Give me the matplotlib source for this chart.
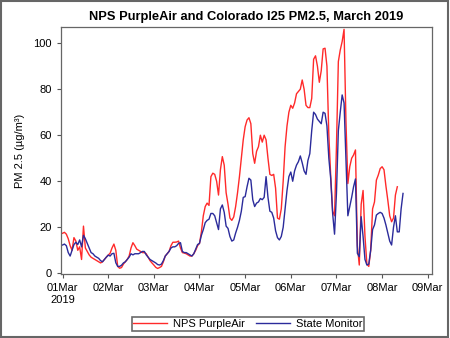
import pandas as pd
import matplotlib
matplotlib.use("Agg")
import matplotlib.pyplot as plt
from matplotlib.patches import Rectangle

# hourly PM2.5, one list per day (01Mar .. 08Mar)
purple_day1 = [17.4, 17.8, 17, 15, 12, 10, 15.5, 14, 10, 11.5, 6, 20.5, 11, 9.5, 8, 7, 6.5, 6, 5.5, 5, 4.5, 5, 6, 7]
purple_day2 = [7.9, 8.7, 11, 12.7, 10, 3, 2.2, 2.5, 4, 5, 6, 7.5, 11, 13.3, 12, 10.5, 10, 9.5, 9, 9, 8.5, 7, 5.5, 4.5]
purple_day3 = [3.6, 2.6, 2.1, 2.5, 3, 5, 7.5, 8.5, 9.5, 12, 13.5, 13.5, 13.6, 14, 11, 9, 8.8, 8.5, 8, 7.5, 7.5, 8.5, 10, 12]
purple_day4 = [13, 18, 25, 29, 30.5, 29.5, 42, 43.5, 43, 40, 34, 45, 50.7, 47, 35, 30, 24, 23, 24.5, 29, 35, 42, 50, 58]
purple_day5 = [63.7, 66.6, 67.6, 65, 52, 47.8, 53, 55, 60, 57, 60, 58, 50, 43, 42.5, 43, 37, 24, 23.5, 28, 40, 55, 64, 70]
purple_day6 = [73, 71.7, 74, 78, 79, 80, 84, 80, 73, 72, 72, 76, 93, 94.5, 90, 83, 88, 97.5, 97.8, 90, 60, 42, 27, 25]
purple_day7 = [55, 92, 97, 100.7, 106, 66, 39, 46.3, 50, 51.4, 53.6, 12, 3.6, 30, 36, 16, 4, 3, 10, 28, 31, 40.5, 42.7, 45.5]
purple_day8 = [46.3, 45, 38, 31.8, 25, 22.4, 24, 34, 37.6]

state_day1 = [12.3, 12.7, 12, 9, 7.5, 10, 12.5, 13.5, 12.5, 14.5, 11.5, 16.5, 15, 13, 11, 9, 8.5, 7.5, 7, 6.5, 5.5, 5, 6, 7]
state_day2 = [7.9, 7.5, 8.5, 8.7, 4.6, 3, 3, 3.5, 4.5, 5, 6, 7, 8.5, 8, 8.5, 8.5, 8.5, 9, 9.5, 9.5, 8, 7, 6, 5.5]
state_day3 = [5, 4.5, 3.8, 3.6, 4, 5.5, 7.5, 8.5, 9.5, 11, 11.5, 11.5, 12, 13, 13.3, 9.5, 9, 9, 8.5, 8, 7.5, 8.5, 10.5, 12.5]
state_day4 = [13, 16.5, 19, 22, 23, 23.5, 26, 26, 25, 22, 19, 28, 29.7, 26.5, 20.5, 19.5, 16, 14, 14.5, 17.5, 20, 23, 27, 33]
state_day5 = [33.3, 37.6, 41.3, 40.5, 32, 29, 30.5, 31, 32.5, 32, 33, 42, 33, 27, 26.5, 24, 18.5, 15.5, 14.5, 16, 20, 28, 36, 42]
state_day6 = [44, 40, 44.5, 47, 48.5, 51, 48, 44.5, 43, 49, 52, 62, 70, 69, 67, 66, 65, 70, 69.5, 64, 50, 41, 26, 17]
state_day7 = [34.7, 62, 70, 77.5, 74, 50, 25, 29, 33, 37.6, 41, 8.7, 7.2, 24.6, 16, 6, 3.6, 4, 10, 19, 21, 25.3, 26, 26.5]
state_day8 = [26, 24, 21, 17.4, 14, 12.3, 20, 25, 18, 18, 28, 34.7]

purple = (purple_day1 + purple_day2 + purple_day3 + purple_day4 + purple_day5
          + purple_day6 + purple_day7 + purple_day8)
state = (state_day1 + state_day2 + state_day3 + state_day4 + state_day5
         + state_day6 + state_day7 + state_day8)

t_purple = pd.date_range("2019-03-01 00:00", periods=len(purple), freq="h")
t_state = pd.date_range("2019-03-01 00:00", periods=len(state), freq="h")

plt.rcParams["font.family"] = ["Liberation Sans", "DejaVu Sans"]

fig = plt.figure(figsize=(4.5, 3.38), dpi=100)
ax = fig.add_axes([0.1356, 0.188, 0.8234, 0.732])

ax.plot(t_purple, purple, color="#ff2a2a", lw=1.0, label="NPS PurpleAir")
ax.plot(t_state, state, color="#2b2b9b", lw=1.0, label="State Monitor")

start = pd.Timestamp("2019-03-01")
ax.set_xlim(start - pd.Timedelta(hours=0.8), start + pd.Timedelta(hours=194))
ax.set_ylim(-0.5, 107)

days = pd.date_range("2019-03-01", "2019-03-09", freq="D")
ax.set_xticks(days)
labels = [d.strftime("%d%b") for d in days]
labels[0] = labels[0] + "\n2019"
ax.set_xticklabels(labels)
ax.set_yticks([0, 20, 40, 60, 80, 100])

ax.tick_params(direction="out", length=3, width=0.8, colors="#555555",
               labelcolor="black", labelsize=8)
for s in ax.spines.values():
    s.set_color("#666666")
    s.set_linewidth(0.9)

ax.set_ylabel("PM 2.5 (µg/m³)", fontsize=8, labelpad=6)
ax.set_title("NPS PurpleAir and Colorado I25 PM2.5, March 2019",
             fontsize=9.3, fontweight="bold", pad=5)

leg = fig.legend(loc="center", bbox_to_anchor=(248 / 450, 14 / 338), ncol=2,
                 fontsize=8, frameon=True, fancybox=False, handlelength=3.0,
                 borderpad=0.15, columnspacing=1.0, handletextpad=0.6,
                 borderaxespad=0)
leg.get_frame().set_edgecolor("#444444")
leg.get_frame().set_linewidth(1.2)

fig.patches.append(Rectangle((0.002, 0.003), 0.994, 0.994, transform=fig.transFigure,
                             fill=False, edgecolor="#666666", lw=1.5))

fig.savefig("out.png", dpi=100)
